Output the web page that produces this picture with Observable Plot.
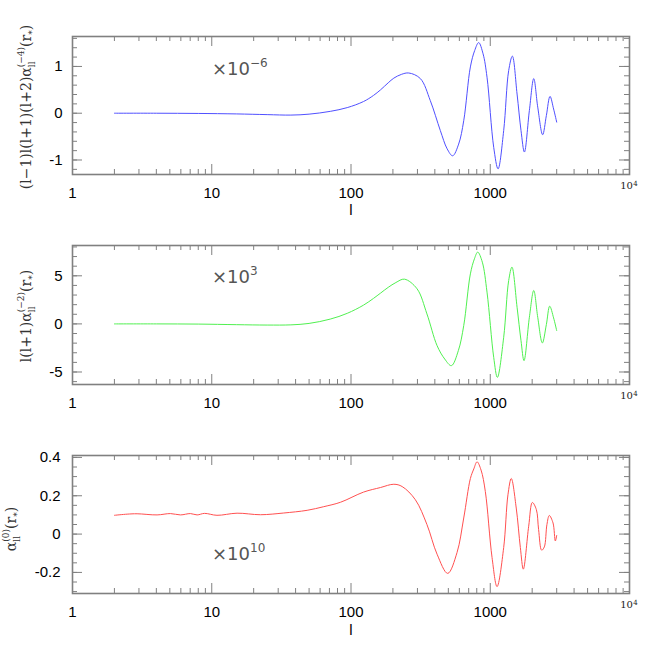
<!DOCTYPE html>
<html><head><meta charset="utf-8">
<script src="https://cdn.jsdelivr.net/npm/d3@7"></script>
<script src="https://cdn.jsdelivr.net/npm/@observablehq/plot@0.6"></script>
<style>
body{margin:0;background:#fff}
#c{position:relative;width:664px;height:664px;overflow:hidden}
#c svg{position:absolute;left:0}
</style>
</head><body><div id="c"></div>
<script>
// ---- data ----
const xTickLabels = [1, 10, 100, 1000];
const xTopLabel = "10";  // 10^4 label base
const xTopExp = "4";

const lTop = [2,4,8,15,25,37,50,71,94,123,145,163,185,203,230,260,315,371,438,490,537,593,645,720,773,826,888,948,1059,1138,1249,1356,1442,1558,1663,1759,1910,2053,2193,2378,2529,2686,2851,3000];
const vTop = [0,0,-0.005,-0.015,-0.03,-0.04,-0.02,0.04,0.12,0.25,0.38,0.5,0.65,0.75,0.83,0.86,0.74,0.27,-0.37,-0.76,-0.91,-0.66,-0.16,0.99,1.34,1.51,1.27,0.77,-0.73,-1.19,-0.37,0.91,1.22,0.41,-0.37,-0.83,0.06,0.74,0.13,-0.46,-0.05,0.36,0.09,-0.19];
const yTicksTop = [-1, 0, 1];

const lMid = [2,4,8,15,25,37,50,71,94,123,145,163,185,210,242,298,351,415,471,526,590,645,720,770,813,877,948,1059,1125,1249,1356,1432,1558,1663,1748,1910,2053,2193,2366,2529,2672,2851,3000];
const vMid = [0,0,-0.02,-0.08,-0.12,-0.1,0.05,0.5,1.1,1.95,2.65,3.2,3.8,4.3,4.65,3.65,1.04,-2.26,-3.65,-4.34,-2.78,-0.18,5.2,6.77,7.46,6.42,3.3,-3.48,-5.56,-1.39,4.5,5.9,1.73,-1.74,-3.82,0.69,3.47,0.69,-1.98,-0.07,1.84,0.62,-0.7];
const yTicksMid = [-5, 0, 5];

const lBot = [2,2.47,2.91,4.05,5.05,5.96,7.03,7.85,8.87,10.9,15.2,22.4,32.9,48.4,63.7,84,123,163,203,233,290,351,415,495,577,645,720,762,804,859,922,1030,1119,1249,1340,1416,1537,1645,1728,1888,2006,2143,2224,2339,2445,2553,2655,2824,2933,3000];
const vBot = [0.098,0.104,0.106,0.1,0.107,0.1,0.107,0.1,0.108,0.098,0.109,0.101,0.11,0.124,0.143,0.166,0.219,0.243,0.26,0.248,0.179,0.05,-0.105,-0.205,-0.097,0.084,0.29,0.34,0.377,0.334,0.222,-0.122,-0.274,-0.07,0.205,0.29,0.136,-0.07,-0.183,0.041,0.165,0.128,0.024,-0.084,-0.067,0.05,0.097,0.058,-0.036,-0.007];
const yTicksBot = [-0.2, 0, 0.2, 0.4];

const multTop = ["×10", "−6"];
const multMid = ["×10", "3"];
const multBot = ["×10", "10"];

const labelTop = [["(l−1)l(l+1)(l+2)α","n"],["ll","sub"],["(−4)","supb"],["(r","n"],["*","sub"],[")","n"]];
const labelMid = [["l(l+1)α","n"],["ll","sub"],["(−2)","supb"],["(r","n"],["*","sub"],[")","n"]];
const labelBot = [["α","n"],["ll","sub"],["(0)","supb"],["(r","n"],["*","sub"],[")","n"]];

// ---- drawing ----
const FRAME = "#808080";
const W = 664, FW = 557;
const xMinor = [1,10,100,1000].flatMap(d => [2,3,4,5,6,7,8,9].map(k => k*d));
const xMajor = [10,100,1000];

function addLabel(svg, parts, x, y) {
  const t = d3.select(svg).append("text")
    .attr("transform", `translate(${x},${y}) rotate(-90)`)
    .attr("text-anchor", "middle")
    .attr("font-family", "DejaVu Serif, serif")
    .attr("font-size", 14).attr("fill", "#333");
  let off = 0, prev = null;
  for (const [s, k] of parts) {
    const ts = t.append("tspan").text(s);
    if (k === "n") { ts.attr("dy", -off); off = 0; }
    else if (k === "sub") { ts.attr("font-size", 9).attr("dy", 4 - off); off = 4; }
    else if (k === "supb") {
      const w = prev ? prev.node().getComputedTextLength() : 0;
      ts.attr("font-size", 9).attr("dx", -w).attr("dy", -7 - off); off = -7;
    }
    prev = ts;
  }
}

function addMult(svg, mult, x, y) {
  const t = d3.select(svg).append("text")
    .attr("x", x).attr("y", y)
    .attr("text-anchor", "start")
    .attr("font-family", "DejaVu Sans, sans-serif")
    .attr("font-size", 18).attr("fill", "#555");
  t.append("tspan").text(mult[0]);
  t.append("tspan").attr("font-size", 12).attr("dy", -8).text(mult[1]);
}

function panel(c) {
  const data = c.l.map((l, i) => ({l, v: c.v[i]}));
  const fh = c.fh;
  const yMinor = d3.range(Math.ceil(c.yDomain[0]/c.minor - 1e-9), Math.floor(c.yDomain[1]/c.minor + 1e-9) + 1).map(k => k*c.minor);
  const marks = [
    Plot.frame({stroke: FRAME, strokeWidth: 1.6}),
    Plot.tickX(xMinor, {x: d => d, insetTop: fh - 5, stroke: FRAME}),
    Plot.tickX(xMinor, {x: d => d, insetBottom: fh - 5, stroke: FRAME}),
    Plot.tickX(xMajor, {x: d => d, insetTop: fh - 10, stroke: FRAME}),
    Plot.tickX(xMajor, {x: d => d, insetBottom: fh - 10, stroke: FRAME}),
    Plot.tickY(yMinor, {y: d => d, insetRight: FW - 5, stroke: FRAME}),
    Plot.tickY(yMinor, {y: d => d, insetLeft: FW - 5, stroke: FRAME}),
    Plot.tickY(c.yTicks, {y: d => d, insetRight: FW - 10, stroke: FRAME}),
    Plot.tickY(c.yTicks, {y: d => d, insetLeft: FW - 10, stroke: FRAME}),
    Plot.line(data, {x: "l", y: "v", stroke: c.color, strokeWidth: 1, curve: "catmull-rom"}),
    Plot.axisX(xTickLabels, {tickSize: 0, tickPadding: 13, tickFormat: d => String(d), label: null, fill: "#000"}),
    Plot.axisY(c.yTicks, {tickSize: 0, tickPadding: c.yPad, tickFormat: d => String(d), label: null, fill: "#000"}),
    Plot.text([1e4], {x: d => d, frameAnchor: "bottom", dy: 14.5, dx: -3, text: () => xTopLabel, fontFamily: "DejaVu Serif, serif", fontSize: 10, fill: "#222"}),
    Plot.text([1e4], {x: d => d, frameAnchor: "bottom", dy: 11, dx: 6, text: () => xTopExp, fontFamily: "DejaVu Serif, serif", fontSize: 7, fill: "#222"})
  ];
  if (c.xLabel) marks.push(Plot.text(["l"], {frameAnchor: "bottom", dy: c.xLabelDy, text: d => d, fontSize: 15, fill: "#000"}));
  const svg = Plot.plot({
    width: W, height: c.height,
    marginLeft: 72, marginRight: 35, marginTop: c.mt, marginBottom: c.height - c.mt - fh,
    x: {type: "log", domain: [1, 1e4]},
    y: {domain: c.yDomain},
    style: {fontFamily: "Liberation Sans, Arial, sans-serif", fontSize: "15px", color: "#000", background: "#fff", overflow: "visible"},
    marks
  });
  svg.style.top = c.top + "px";
  document.getElementById("c").appendChild(svg);
  addLabel(svg, c.label, c.labelX, c.labelY);
  addMult(svg, c.mult, 212, c.multY);
}

panel({top: 0, height: 225, mt: 36, fh: 138, l: lTop, v: vTop, color: "#5050ff", yDomain: [-1.31, 1.64], yTicks: yTicksTop, minor: 0.2, yPad: 10, label: labelTop, labelX: 31, labelY: 107, mult: multTop, multY: 75, xLabel: true, xLabelDy: 40});
panel({top: 225, height: 205, mt: 20, fh: 139, l: lMid, v: vMid, color: "#50f050", yDomain: [-6.3, 8.15], yTicks: yTicksMid, minor: 1, yPad: 10, label: labelMid, labelX: 31, labelY: 91, mult: multMid, multY: 58, xLabel: false});
panel({top: 430, height: 234, mt: 25, fh: 138, l: lBot, v: vBot, color: "#ff5050", yDomain: [-0.31, 0.41], yTicks: yTicksBot, minor: 0.05, yPad: 12, label: labelBot, labelX: 16, labelY: 99, mult: multBot, multY: 130, xLabel: true, xLabelDy: 41});
</script>
</body></html>
